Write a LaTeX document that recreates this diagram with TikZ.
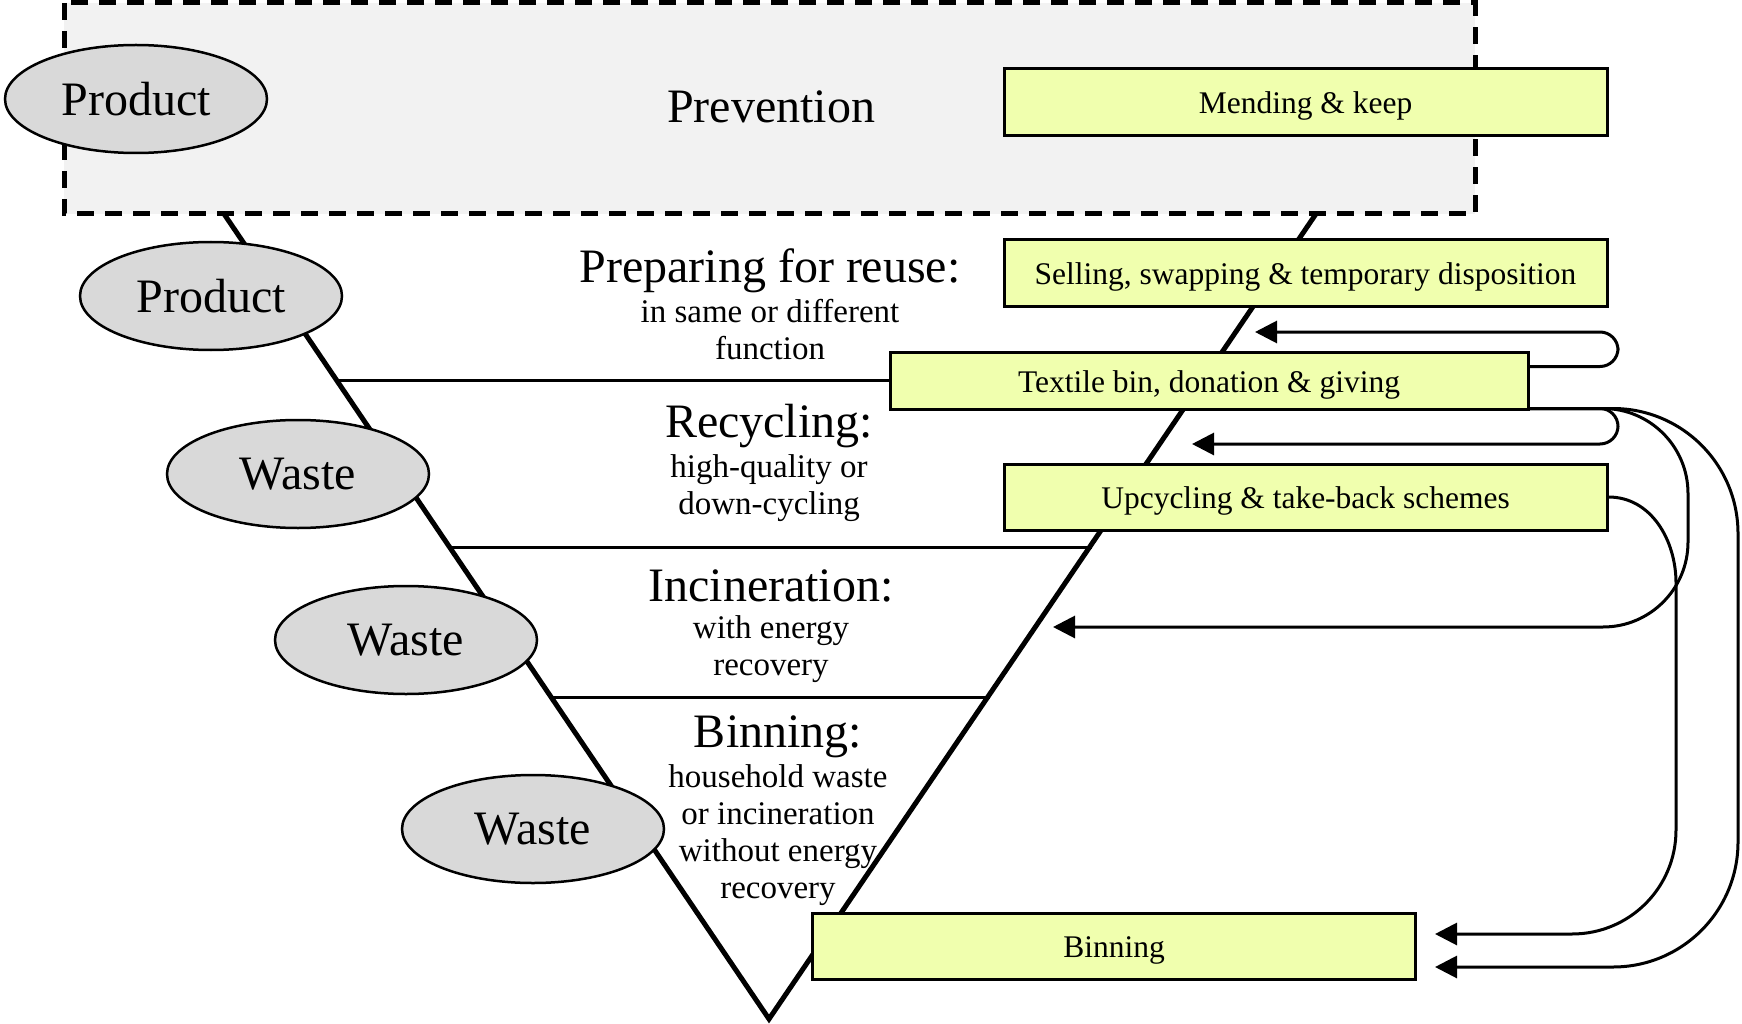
\documentclass[tikz,border=0pt]{standalone}
\usepackage{fontspec}
\setmainfont{Liberation Serif}
\usetikzlibrary{arrows.meta,calc,shapes.geometric}
\definecolor{boxfill}{HTML}{F0FFAE}
\definecolor{ellfill}{HTML}{D9D9D9}
\definecolor{prevfill}{HTML}{F2F2F2}
\newcommand\myBig{\fontsize{48}{56}\selectfont}
\newcommand\mySmall{\fontsize{33}{37}\selectfont}
\newcommand\myBoxf{\fontsize{31.5}{36}\selectfont}
\begin{document}
\begin{tikzpicture}[x=1pt,y=-1pt,
  ell/.style={ellipse,draw,line width=2.5pt,fill=ellfill,minimum width=262pt,minimum height=108pt,inner sep=0pt,font=\myBig},
  ybox/.style={rectangle,draw,line width=3pt,fill=boxfill,minimum height=66pt,inner sep=0pt,font=\myBoxf,text height=23pt,text depth=0pt},
  conn/.style={line width=3pt,-{Triangle[length=22pt,width=22pt]}},
  tri/.style={line width=5pt},
  divider/.style={line width=3pt},
  head/.style={font=\myBig,inner sep=0pt},
  sub/.style={font=\mySmall,align=center,inner sep=0pt},
]
\useasboundingbox (0,0) rectangle (1742,1024);

% triangle sides
\coordinate (TL) at (218,205);
\coordinate (TR) at (1322,205);
\coordinate (apex) at (769,1019);
\draw[tri,line join=miter] (TL) -- (apex) -- (TR);

% dividers
\coordinate (d1l) at (336,380); \coordinate (d1r) at (1204,380);
\coordinate (d2l) at (450,547); \coordinate (d2r) at (1092,547);
\coordinate (d3l) at (550,697); \coordinate (d3r) at (990,697);
\draw[divider] (d1l) -- (d1r);
\draw[divider] (d2l) -- (d2r);
\draw[divider] (d3l) -- (d3r);

% prevention box
\draw[line width=5pt,fill=prevfill,dash pattern=on 17pt off 11pt] (64,3) rectangle (1475,214);
\node[head] (prev) at (771,107) {Prevention};

% ellipses
\node[ell] (p1) at (136,99) {Product};
\node[ell] (p2) at (211,296) {Product};
\node[ell] (w1) at (298,474) {Waste};
\node[ell] (w2) at (406,640) {Waste};
\node[ell] (w3) at (533,829) {Waste};

% boxes
\node[ybox,minimum width=603pt,minimum height=67pt] (mend) at (1305.5,102.5) {Mending \& keep};
\node[ybox,minimum width=603pt] (sell) at (1305.5,273) {Selling, swapping \& temporary disposition};
\node[ybox,minimum width=638pt,minimum height=57pt] (text) at (1209,380.5) {Textile bin, donation \& giving};
\node[ybox,minimum width=603pt] (upc) at (1305.5,497) {Upcycling \& take-back schemes};
\node[ybox,minimum width=603pt] (bin) at (1114,946) {Binning};

% triangle texts
\node[head] (prepH) at (770,271) {Preparing for reuse:};
\node[sub] (prepT) at (770,330) {in same or different\\function};
\node[head] (recH) at (769,426) {Recycling:};
\node[sub] (recT) at (769,488) {high-quality or\\down-cycling};
\node[head] (incH) at (771,586) {Incineration:};
\node[sub] (incT) at (771,649) {with energy\\recovery};
\node[head] (binH) at (778,737) {Binning:};
\node[sub] (binT) at (778,835) {household waste\\or incineration\\without energy\\recovery};

% connectors
\coordinate (t1) at (1255,332);
\coordinate (t2) at (1192,444);
\coordinate (t3) at (1053,627);
\coordinate (t4) at (1435,934);
\coordinate (t5) at (1435,967);
\coordinate (s1) at ($(text.north east)+(0,16)$);
\coordinate (s2) at ($(text.south east)+(0,-2)$);

\draw[conn,rounded corners=18pt] (s1) -| (1618,332) -- (t1);
\draw[conn,rounded corners=18pt] (s2) -| (1618,444) -- (t2);
\draw[conn,rounded corners=85pt] (s2) -| (1688,627) -- (t3);
\draw[conn,rounded corners=125pt] (s2) -| (1738,967) -- (t5);
\draw[conn] (upc.east) to[out=0,in=90] (1676,583) -- (1676,830) to[out=-90,in=0] (1572,934) -- (t4);
\end{tikzpicture}
\end{document}
